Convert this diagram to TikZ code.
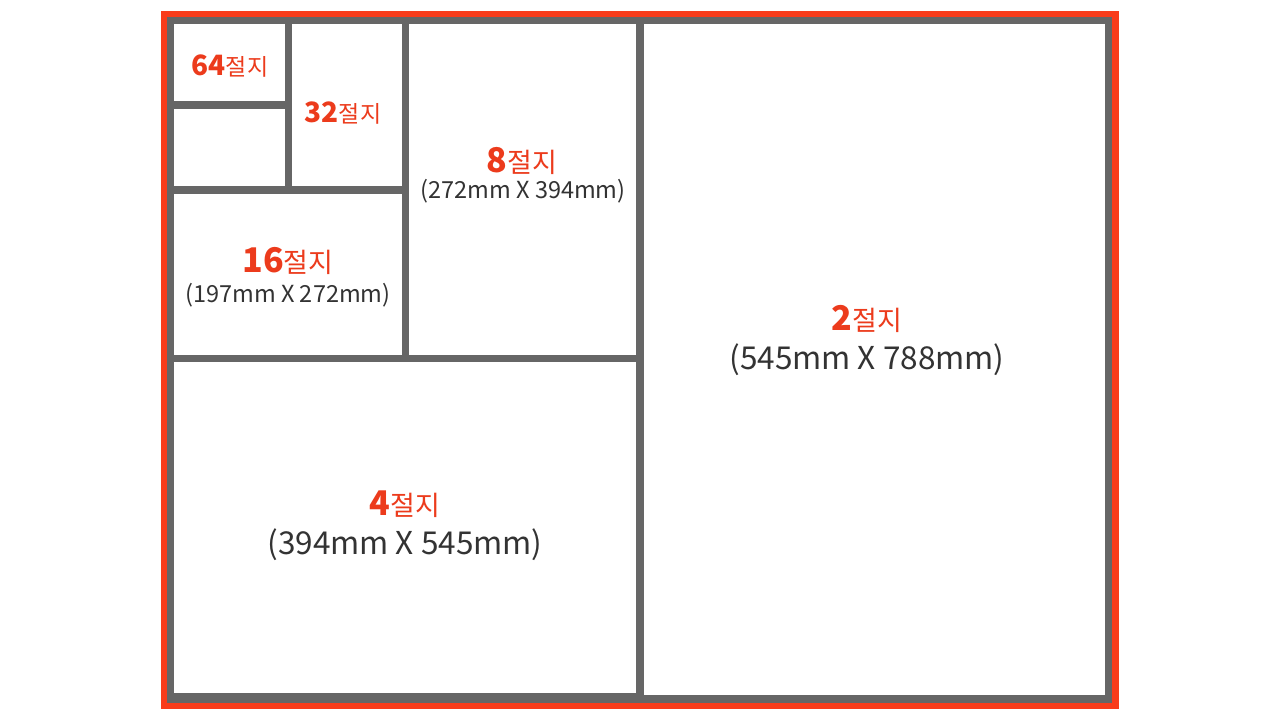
\documentclass[tikz,border=0pt]{standalone}
\usepackage{fontspec}
\setmainfont{Noto Sans CJK KR}

\definecolor{paperred}{HTML}{F93C1B}
\definecolor{labelred}{HTML}{EC3B1C}
\definecolor{framegray}{HTML}{666666}
\definecolor{dimgray}{HTML}{333333}

\newcommand{\bignum}[1]{{\fontsize{34}{34}\selectfont\bfseries #1}}
\newcommand{\smallnum}[1]{{\fontsize{28}{28}\selectfont\bfseries #1}}

\begin{document}
\begin{tikzpicture}[x=1pt, y=-1pt,
        biglabel/.style={anchor=base, inner sep=0pt, text=labelred, font=\fontsize{27}{27}\selectfont},
        smalllabel/.style={anchor=base, inner sep=0pt, text=labelred, font=\fontsize{23}{23}\selectfont},
        bigdim/.style={anchor=base, inner sep=0pt, text=dimgray, font=\fontsize{31.5}{31.5}\selectfont},
        smalldim/.style={anchor=base, inner sep=0pt, text=dimgray, font=\fontsize{23.5}{23.5}\selectfont}]
            \useasboundingbox (0,0) rectangle (1280,720);

            \fill[paperred] (161,11) rectangle (1119,709);
            \fill[framegray] (167,17) rectangle (1112,703);

            \foreach \xa/\ya/\xb/\yb in {174/24/285/101, 174/109/285/186, 292/24/402/186,
                174/194/402/355, 409/24/636/355, 174/362/636/693, 644/24/1105/695}
                {
                    \fill[white] (\xa,\ya) rectangle (\xb,\yb);
                }

            \node (lab64) at (230,75)[smalllabel]{\smallnum{64}절지};
            \node (lab32) at (343,122)[smalllabel]{\smallnum{32}절지};

            \node (lab16) at (288,272)[biglabel]{\bignum{16}절지};
            \node (dim16) at (288,302)[smalldim]{(197mm X 272mm)};

            \node (lab8) at (522,172)[biglabel]{\bignum{8}절지};
            \node (dim8) at (523,198)[smalldim]{(272mm X 394mm)};

            \node (lab4) at (405,515)[biglabel]{\bignum{4}절지};
            \node (dim4) at (405,554)[bigdim]{(394mm X 545mm)};

            \node (lab2) at (867,330)[biglabel]{\bignum{2}절지};
            \node (dim2) at (867,369)[bigdim]{(545mm X 788mm)};
        \end{tikzpicture}
\end{document}
